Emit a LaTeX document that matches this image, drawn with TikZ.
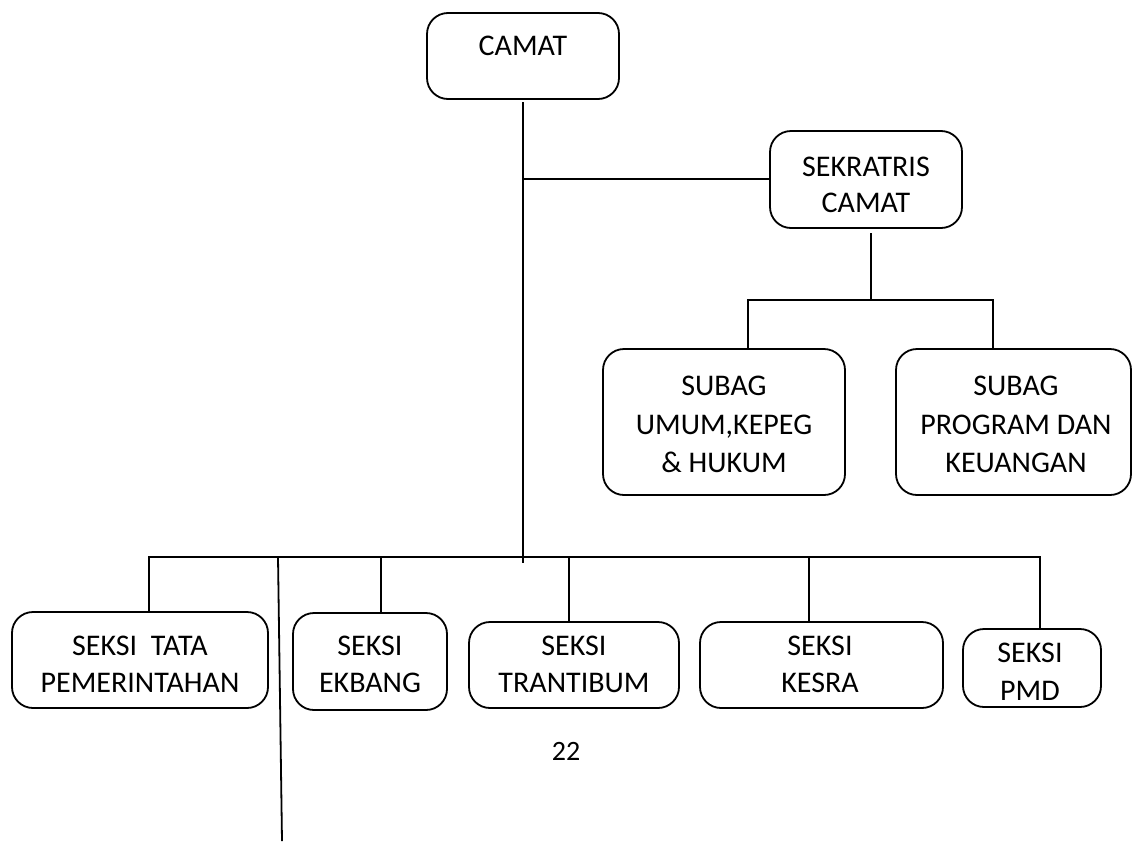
\documentclass[tikz,border=0pt]{standalone}
\usepackage{fontspec}
\setmainfont{Carlito}
\begin{document}
\begin{tikzpicture}[x=1pt,y=-1pt,
  box/.style={draw, rounded corners=21pt, line width=1.8pt, inner sep=0pt},
  txt/.style={align=center, inner sep=0pt, font=\fontsize{30}{37}\selectfont},
  ln/.style={line width=1.8pt}]
\useasboundingbox (0,0) rectangle (1132,841);
% boxes
\node[box, minimum width=192pt, minimum height=86pt] (camat) at (523,56) {};
\node[box, minimum width=192pt, minimum height=97pt] (sek) at (866,179.5) {};
\node[box, minimum width=242pt, minimum height=146pt] (umum) at (724,422) {};
\node[box, minimum width=235pt, minimum height=146pt] (prog) at (1013.5,422) {};
\node[box, minimum width=256pt, minimum height=96pt] (tata) at (140,660) {};
\node[box, minimum width=154pt, minimum height=97pt] (ekbang) at (370,661.5) {};
\node[box, minimum width=210pt, minimum height=86pt] (tran) at (574,665) {};
\node[box, minimum width=243pt, minimum height=86pt] (kesra) at (821.5,665) {};
\node[box, minimum width=138pt, minimum height=78pt] (pmd) at (1032,668) {};
% texts
\node[txt] (camatT) at (523,46) {CAMAT};
\node[txt, font=\fontsize{30}{36}\selectfont] (sekT) at (866,185) {SEKRATRIS\\CAMAT};
\node[txt, font=\fontsize{30}{38.5}\selectfont] (umumT) at (724,424.5) {SUBAG\\UMUM,KEPEG\\\& HUKUM};
\node[txt, font=\fontsize{30}{38.5}\selectfont] (progT) at (1016,424.5) {SUBAG\\PROGRAM DAN\\KEUANGAN};
\node[txt] (tataT) at (140,664.5) {SEKSI\ \ TATA\\PEMERINTAHAN};
\node[txt] (ekbangT) at (370,664.5) {SEKSI\\EKBANG};
\node[txt] (tranT) at (574,664) {SEKSI\\TRANTIBUM};
\node[txt] (kesraT) at (820,664) {SEKSI\\KESRA};
\node[txt, font=\fontsize{30}{38}\selectfont] (pmdT) at (1030,672) {SEKSI\\PMD};
\node[txt, font=\fontsize{28}{30}\selectfont] (page) at (566,751) {22};
% connectors
\coordinate (mainTop) at (camat.south |- 0,102);
\coordinate (mainBot) at (camat.south |- 0,563);
\coordinate (jSek) at (camat.south |- 0,179);
\draw[ln] (mainTop) -- (mainBot);
\draw[ln] (jSek) -- (jSek -| sek.west);
\coordinate (sekBot) at (871,233);
\coordinate (sBus) at (871,300);
\draw[ln] (sekBot) -- (sBus);
\draw[ln] (umum.north -| 748,0) -- (748,300) -- (993,300) -- (prog.north -| 993,0);
\coordinate (bL) at (149,557);
\coordinate (bR) at (1040,557);
\draw[ln] (tata.north -| bL) -- (bL) -- (bR) -- (pmd.north -| bR);
\draw[ln] (381,557) -- (ekbang.north -| 381,0);
\draw[ln] (569,557) -- (tran.north -| 569,0);
\draw[ln] (809,557) -- (kesra.north -| 809,0);
\coordinate (stray1) at (278,557);
\coordinate (stray2) at (282,841);
\draw[ln] (stray1) -- (stray2);
\end{tikzpicture}
\end{document}
